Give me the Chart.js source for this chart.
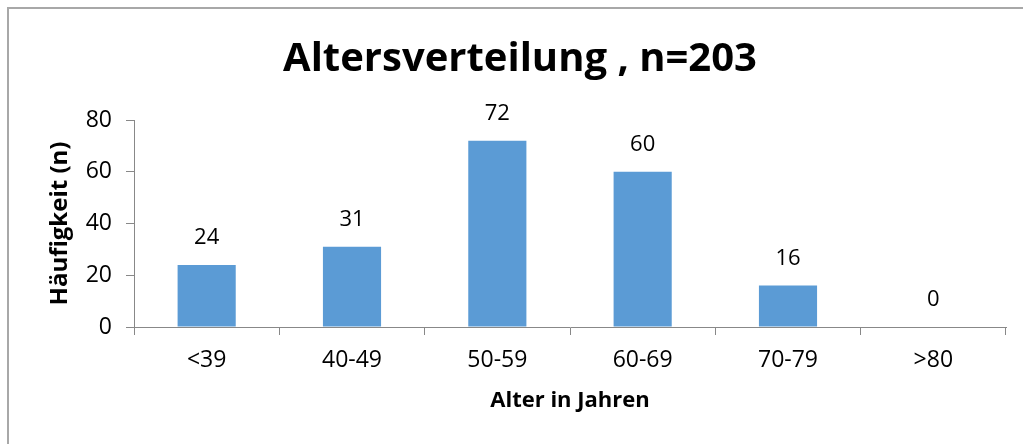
<!DOCTYPE html>
<html>
<head>
<meta charset="utf-8">
<script src="https://cdn.jsdelivr.net/npm/chart.js@4"></script>
<style>
html,body{margin:0;padding:0;background:#fff;}
#wrap{position:relative;width:1023px;height:444px;}
#frame{position:absolute;left:7px;top:7px;right:0;bottom:0;border-top:2px solid #a8a8a8;border-left:2px solid #a8a8a8;pointer-events:none;}
canvas{position:absolute;left:0;top:0;}
</style>
</head>
<body>
<div id="wrap">
<canvas id="c" width="1023" height="444"></canvas>
<div id="frame"></div>
</div>
<script>
const categories = ["<39", "40-49", "50-59", "60-69", "70-79", ">80"];
const counts = [24, 31, 72, 60, 16, 0];
const yTicks = [0, 20, 40, 60, 80];
const titleText = "Altersverteilung , n=203";
const xTitle = "Alter in Jahren";
const yTitle = "Häufigkeit (n)";

const FONT = "'Open Sans', 'DejaVu Sans', sans-serif";

const dataLabels = {
  id: 'dataLabels',
  afterDatasetsDraw(chart) {
    const ctx = chart.ctx;
    const meta = chart.getDatasetMeta(0);
    ctx.save();
    ctx.font = "22px " + FONT;
    ctx.fillStyle = "#000";
    ctx.textAlign = "center";
    ctx.textBaseline = "middle";
    meta.data.forEach((bar, i) => {
      ctx.fillText(String(counts[i]), bar.x, bar.y - 27);
    });
    ctx.restore();
  }
};

new Chart(document.getElementById('c'), {
  type: 'bar',
  data: {
    labels: categories,
    datasets: [{
      data: counts,
      backgroundColor: '#5B9BD5',
      borderWidth: 0,
      categoryPercentage: 1.0,
      barPercentage: 0.4
    }]
  },
  options: {
    responsive: false,
    animation: false,
    devicePixelRatio: 1,
    layout: { padding: { left: 34, right: 17, top: 0, bottom: 0 } },
    plugins: {
      legend: { display: false },
      tooltip: { enabled: false },
      title: {
        display: true,
        text: titleText,
        color: '#000',
        font: { family: FONT, size: 40, weight: 'bold' },
        padding: { top: 36, bottom: 36 }
      }
    },
    scales: {
      x: {
        afterFit(scale) { scale.height = 117; },
        grid: { display: true, offset: true, drawOnChartArea: false, drawTicks: true, tickLength: 8, color: '#888888', lineWidth: 1 },
        border: { display: true, color: '#888888', width: 1 },
        ticks: { color: '#000', font: { family: FONT, size: 23 }, padding: 12, maxRotation: 0 },
        title: { display: true, text: xTitle, color: '#000', font: { family: FONT, size: 22, weight: 'bold' }, padding: { top: 0, bottom: 30 } }
      },
      y: {
        min: 0,
        max: 80,
        afterFit(scale) { scale.width = 100; },
        afterBuildTicks(scale) { scale.ticks = yTicks.map(v => ({ value: v })); },
        grid: { display: true, drawOnChartArea: false, drawTicks: true, tickLength: 8, color: '#888888', lineWidth: 1 },
        border: { display: true, color: '#888888', width: 1 },
        ticks: { color: '#000', font: { family: FONT, size: 23 }, padding: 14 },
        title: { display: true, text: yTitle, color: '#000', font: { family: FONT, size: 24, weight: 'bold' }, padding: { top: 12, bottom: 0 } }
      }
    }
  },
  plugins: [dataLabels]
});
</script>
</body>
</html>
